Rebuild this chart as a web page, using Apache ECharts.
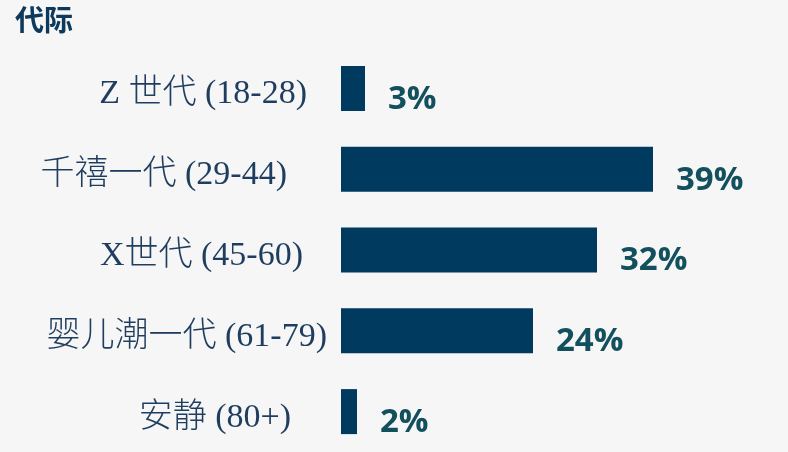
<!DOCTYPE html>
<html>
<head>
<meta charset="utf-8">
<script src="https://cdn.jsdelivr.net/npm/echarts@6/dist/echarts.min.js"></script>
<style>
  html, body { margin: 0; padding: 0; background: #f6f6f6; }
  #chart { width: 788px; height: 452px; }
</style>
</head>
<body>
<div id="chart"></div>
<script>
const categories = ['Z 世代 (18-28)', '千禧一代 (29-44)', 'X世代 (45-60)', '婴儿潮一代 (61-79)', '安静 (80+)'];
const values = [3, 39, 32, 24, 2];

// the labels in the picture don't share one right edge
const labelPadRight = [20, 40, 24, 0, 36];

const chart = echarts.init(document.getElementById('chart'));
chart.setOption({
    backgroundColor: '#f6f6f6',
    title: {
        text: '代际',
        left: 10,
        top: 0,
        textStyle: {
            fontFamily: 'Noto Sans CJK SC',
            fontWeight: 'bold',
            fontSize: 29,
            color: '#0d3a5c'
        }
    },
    grid: {
        left: 341,
        right: 47,
        top: 48,
        bottom: 0
    },
    xAxis: {
        type: 'value',
        min: 0,
        max: 50,
        show: false
    },
    yAxis: {
        type: 'category',
        inverse: true,
        data: categories,
        axisLine: { show: false },
        axisTick: { show: false },
        axisLabel: {
            margin: 14,
            formatter: (v, i) => '{p' + i + '|' + v + '}',
            rich: Object.fromEntries(labelPadRight.map((r, i) => ['p' + i, {
                padding: [12, r, 0, 0],
                fontFamily: 'Liberation Serif, Noto Sans CJK SC',
                fontWeight: 300,
                fontSize: 34,
                color: '#1f3d5e'
            }]))
        }
    },
    series: [
        {
            type: 'bar',
            data: values,
            barWidth: 45,
            itemStyle: { color: '#003a5f' },
            label: {
                show: true,
                position: 'right',
                distance: 23,
                offset: [0, 11],
                formatter: '{c}%',
                fontFamily: 'Open Sans',
                fontWeight: 'bold',
                fontSize: 33,
                color: '#13505e'
            }
        }
    ]
});
</script>
</body>
</html>
